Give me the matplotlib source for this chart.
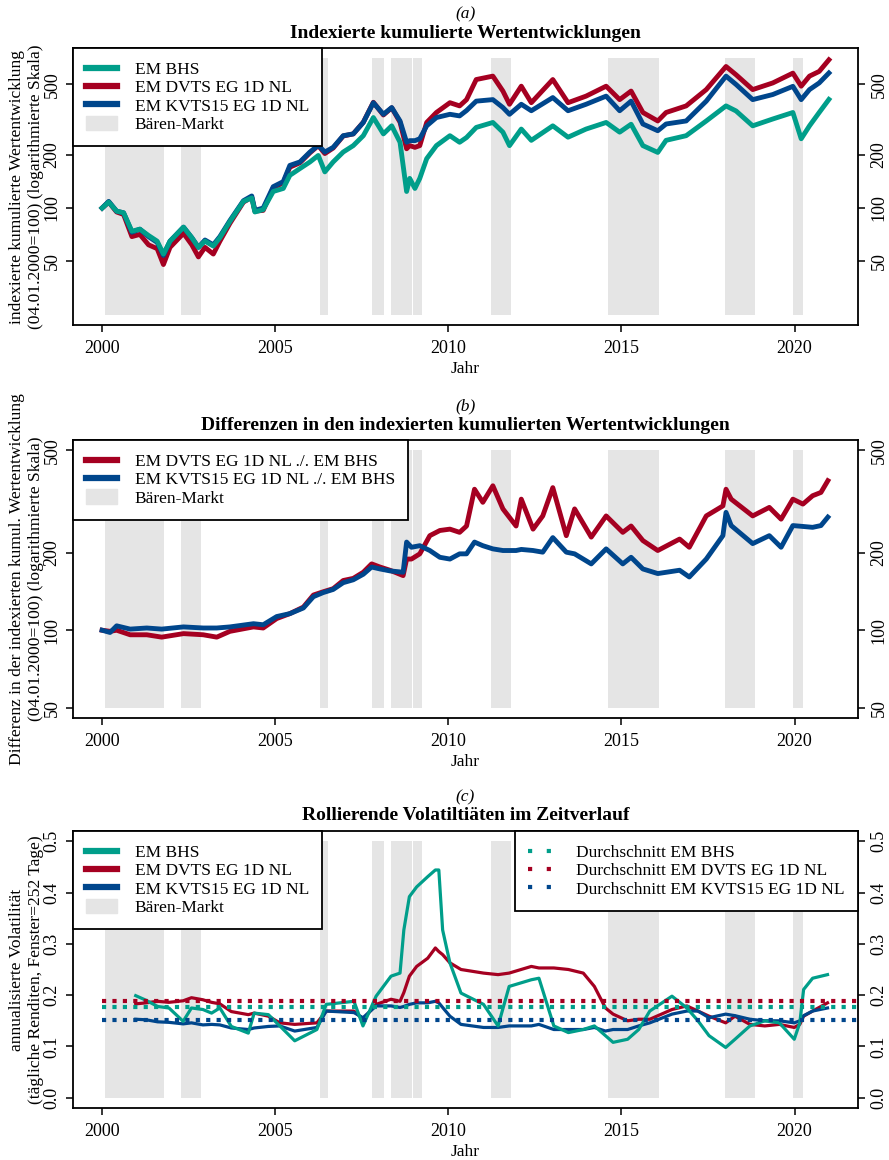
import numpy as np
import matplotlib
matplotlib.use('Agg')
from matplotlib import pyplot as plt
from matplotlib.lines import Line2D
from matplotlib.patches import Patch
from matplotlib.transforms import Bbox

# colours
c_bhs = '#009E8A'
c_dvts = '#A50021'
c_kvts = '#00468C'
c_bear = '#E5E5E5'

# bear market periods (decimal years)
bear_start = [2000.10, 2002.29, 2006.30, 2007.80, 2008.35, 2008.98, 2011.25, 2014.60, 2018.00, 2019.96]
bear_end = [2001.80, 2002.87, 2006.52, 2008.14, 2008.96, 2009.24, 2011.80, 2016.10, 2018.87, 2020.25]

# (a) indexed cumulative performance
t_a = [2000.01, 2000.2, 2000.43, 2000.63, 2000.87, 2001.1, 2001.35, 2001.6, 2001.78, 2001.97,
       2002.36, 2002.6, 2002.79, 2002.98, 2003.22, 2003.41, 2003.7, 2004.09, 2004.33, 2004.42,
       2004.66, 2004.95, 2005.24, 2005.43, 2005.72, 2006.01, 2006.25, 2006.44, 2006.68, 2006.97,
       2007.26, 2007.55, 2007.84, 2008.13, 2008.37, 2008.61, 2008.8, 2008.89, 2009.04, 2009.18,
       2009.38, 2009.66, 2010.05, 2010.33, 2010.53, 2010.81, 2011.29, 2011.58, 2011.77, 2012.11,
       2012.4, 2013.02, 2013.46, 2013.98, 2014.56, 2014.95, 2015.28, 2015.62, 2016.05, 2016.29,
       2016.87, 2017.45, 2018.02, 2018.31, 2018.79, 2019.37, 2019.95, 2020.19, 2020.43, 2020.71,
       2020.99]
a_bhs = [100, 108, 96, 94, 74, 76, 70, 65, 55, 65,
         78, 68, 60, 65, 61, 68, 84, 109, 114, 95,
         98, 124, 129, 153, 167, 182, 198, 160, 182, 207,
         225, 256, 324, 262, 291, 235, 124, 147, 129, 147,
         190, 225, 256, 235, 250, 285, 304, 268, 225, 279,
         241, 291, 251, 279, 304, 268, 297, 225, 206, 241,
         256, 310, 377, 353, 291, 318, 346, 246, 291, 346,
         410]
a_dvts = [100, 108, 95, 92, 69, 71, 62, 59, 48, 60,
          72, 62, 53, 60, 55, 65, 82, 108, 115, 96,
          97, 130, 139, 170, 180, 205, 225, 203, 218, 255,
          262, 305, 395, 335, 368, 305, 216, 225, 220, 225,
          304, 346, 393, 377, 409, 531, 555, 457, 385, 487,
          393, 531, 393, 428, 487, 409, 457, 346, 310, 346,
          377, 466, 629, 565, 466, 508, 577, 487, 555, 590,
          686]
a_kvts = [100, 109, 96, 94, 73, 76, 69, 64, 54, 65,
          78, 68, 60, 66, 62, 69, 85, 110, 117, 97,
          100, 132, 141, 174, 182, 207, 226, 207, 220, 256,
          262, 304, 393, 338, 369, 310, 235, 240, 240, 246,
          291, 324, 338, 331, 355, 401, 409, 369, 338, 385,
          354, 420, 354, 385, 428, 354, 401, 298, 273, 298,
          310, 401, 555, 498, 409, 437, 486, 409, 466, 508,
          578]

# (b) differences in indexed cumulative performance
t_b = [2000.01, 2000.24, 2000.43, 2000.82, 2001.3, 2001.73, 2002.36, 2002.93, 2003.32, 2003.7,
       2004.38, 2004.66, 2005.05, 2005.43, 2005.82, 2006.11, 2006.39, 2006.68, 2006.97, 2007.26,
       2007.55, 2007.79, 2008.03, 2008.32, 2008.7, 2008.8, 2008.94, 2009.18, 2009.47, 2009.76,
       2010.05, 2010.33, 2010.53, 2010.76, 2011.0, 2011.29, 2011.58, 2011.96, 2012.11, 2012.45,
       2012.73, 2013.02, 2013.41, 2013.65, 2014.13, 2014.56, 2015.04, 2015.28, 2015.62, 2016.05,
       2016.68, 2016.96, 2017.45, 2017.93, 2018.02, 2018.17, 2018.79, 2019.27, 2019.61, 2019.95,
       2020.24, 2020.52, 2020.76, 2020.96]
b_dvts = [100, 99, 100, 96, 96, 94, 97, 96, 94, 99,
          103, 102, 111, 116, 123, 137, 141, 145, 156, 159,
          168, 181, 176, 171, 163, 189, 189, 198, 233, 244,
          247, 240, 254, 353, 314, 364, 296, 254, 323, 247,
          278, 358, 233, 296, 230, 278, 240, 254, 223, 204,
          226, 210, 278, 304, 353, 323, 278, 300, 270, 323,
          309, 333, 343, 381]
b_kvts = [100, 98, 104, 101, 102, 101, 103, 102, 102, 103,
          106, 105, 113, 116, 122, 135, 140, 144, 153, 157,
          165, 176, 173, 170, 168, 220, 210, 213, 204, 192,
          189, 198, 198, 220, 213, 207, 204, 204, 206, 204,
          201, 229, 201, 198, 181, 207, 181, 192, 173, 166,
          171, 161, 189, 233, 287, 255, 217, 233, 210, 255,
          253, 251, 255, 275]

# (c) rolling volatility (252 days)
t_c = [2000.98, 2001.28, 2001.61, 2001.94, 2002.35, 2002.59, 2002.92, 2003.17, 2003.41, 2003.74,
       2004.23, 2004.4, 2004.81, 2005.14, 2005.57, 2006.21, 2006.48, 2007.28, 2007.54, 2007.92,
       2008.35, 2008.61, 2008.72, 2008.88, 2009.09, 2009.41, 2009.63, 2009.73, 2009.84, 2010.05,
       2010.37, 2011.02, 2011.44, 2011.76, 2012.4, 2012.62, 2013.05, 2013.47, 2013.9, 2014.22,
       2014.54, 2014.76, 2015.18, 2015.5, 2015.82, 2016.46, 2016.89, 2017.21, 2017.53, 2018.01,
       2018.28, 2018.71, 2019.14, 2019.56, 2019.99, 2020.15, 2020.26, 2020.52, 2020.95]
c_vol_bhs = [0.199, 0.190, 0.178, 0.175, 0.149, 0.175, 0.172, 0.165, 0.175, 0.139,
             0.126, 0.165, 0.162, 0.140, 0.111, 0.133, 0.182, 0.188, 0.140, 0.198,
             0.237, 0.243, 0.327, 0.392, 0.411, 0.431, 0.444, 0.444, 0.327, 0.263,
             0.204, 0.182, 0.140, 0.217, 0.230, 0.233, 0.140, 0.127, 0.133, 0.140,
             0.121, 0.108, 0.114, 0.133, 0.169, 0.198, 0.175, 0.150, 0.121, 0.098,
             0.114, 0.140, 0.150, 0.146, 0.114, 0.146, 0.211, 0.233, 0.240]
c_vol_dvts = [0.183, 0.185, 0.188, 0.186, 0.189, 0.195, 0.191, 0.186, 0.183, 0.168,
              0.162, 0.165, 0.159, 0.146, 0.143, 0.146, 0.169, 0.169, 0.153, 0.182,
              0.192, 0.188, 0.205, 0.237, 0.256, 0.272, 0.292, 0.285, 0.279, 0.263,
              0.250, 0.243, 0.240, 0.243, 0.256, 0.253, 0.253, 0.250, 0.243, 0.217,
              0.175, 0.163, 0.150, 0.153, 0.153, 0.172, 0.179, 0.169, 0.159, 0.146,
              0.159, 0.143, 0.140, 0.143, 0.137, 0.143, 0.159, 0.169, 0.185]
c_vol_kvts = [0.153, 0.152, 0.148, 0.147, 0.144, 0.146, 0.142, 0.143, 0.142, 0.136,
              0.133, 0.136, 0.139, 0.140, 0.130, 0.137, 0.169, 0.166, 0.156, 0.179,
              0.179, 0.176, 0.178, 0.182, 0.185, 0.185, 0.188, 0.185, 0.176, 0.159,
              0.143, 0.137, 0.137, 0.140, 0.140, 0.143, 0.133, 0.133, 0.133, 0.137,
              0.130, 0.133, 0.133, 0.140, 0.146, 0.163, 0.169, 0.169, 0.156, 0.163,
              0.160, 0.153, 0.150, 0.150, 0.146, 0.150, 0.160, 0.169, 0.175]
avg_vol = {'bhs': 0.177, 'dvts': 0.188, 'kvts': 0.151}

lbl_bhs = 'EM BHS'
lbl_dvts = 'EM DVTS EG 1D NL'
lbl_kvts = 'EM KVTS15 EG 1D NL'
lbl_bear = 'Bären-Markt'

plt.rcParams['font.family'] = ['Liberation Serif', 'DejaVu Serif']
plt.rcParams['axes.linewidth'] = 1.3

W, H = 889, 1160
fig = plt.figure(figsize=(W / 100, H / 100), dpi=100)
XLIM = (1999.17, 2021.83)


def make_axes(top, bottom, letter, title, ylab1, ylab2, region):
    ax = fig.add_axes([73 / W, 1 - bottom / H, 785 / W, (bottom - top) / H])
    ax.set_xlim(*XLIM)
    ax.set_xticks([2000, 2005, 2010, 2015, 2020])
    ax.tick_params(direction='out', length=5, width=1.1, labelsize=13, pad=4,
                   right=True, labelright=True)
    ax.tick_params(axis='x', pad=6)
    ax.tick_params(axis='y', labelrotation=90)
    xc = (73 + 858) / 2 / W
    fig.text(xc, 1 - (top - 34) / H, letter, style='italic', fontsize=12.5, ha='center', va='center')
    fig.text(xc, 1 - (top - 15) / H, title, weight='bold', fontsize=14, ha='center', va='center')
    fig.text(xc, 1 - (bottom + 44) / H, 'Jahr', fontsize=12.5, ha='center', va='center')
    yc = 1 - (top + bottom) / 2 / H
    clip = Bbox([[0, H - region[1]], [W, H - region[0]]])
    for xpx, s in [(17, ylab1), (36, ylab2)]:
        t = fig.text(xpx / W, yc, s, rotation=90, fontsize=12.6, ha='center', va='center')
        t.set_clip_box(clip)
        t.set_clip_on(True)
    return ax


def finish_yticks(ax):
    for tk in ax.yaxis.get_major_ticks():
        tk.label1.set_va('center')
        tk.label2.set_va('center')


def shade(ax, lo, hi):
    for s, e in zip(bear_start, bear_end):
        ax.fill_between([s, e], lo, hi, color=c_bear, lw=0, zorder=0)


def log_limits(ax, lo, hi):
    r = np.log10(hi / lo)
    ax.set_yscale('log')
    ax.set_ylim(lo * 10 ** (-0.04 * r), hi * 10 ** (0.04 * r))
    ax.set_yticks([50, 100, 200, 500])
    ax.set_yticklabels(['50', '100', '200', '500'])
    ax.yaxis.set_minor_locator(plt.NullLocator())


leg_kw = dict(loc='upper left', borderaxespad=0, fancybox=False, framealpha=1, edgecolor='black',
              fontsize=12.5, handlelength=1.8, handleheight=0.9, handletextpad=1.0,
              labelspacing=0.06, borderpad=0.75)

# ---- (a)
ax = make_axes(48, 325, '(a)', 'Indexierte kumulierte Wertentwicklungen',
               'indexierte kumulierte Wertentwicklung', '(04.01.2000=100) (logarithmierte Skala)',
               (0, 386.7))
log_limits(ax, 25, 700)
shade(ax, 25, 700)
ax.plot(t_a, a_dvts, color=c_dvts, lw=3.5)
ax.plot(t_a, a_kvts, color=c_kvts, lw=3.5)
ax.plot(t_a, a_bhs, color=c_bhs, lw=3.5)
h = [Line2D([], [], color=c_bhs, lw=4.5), Line2D([], [], color=c_dvts, lw=4.5),
     Line2D([], [], color=c_kvts, lw=4.5), Patch(color=c_bear)]
leg = ax.legend(h, [lbl_bhs, lbl_dvts, lbl_kvts, lbl_bear], **leg_kw)
leg.get_frame().set_linewidth(1.3)
finish_yticks(ax)

# ---- (b)
ax = make_axes(440, 718, '(b)', 'Differenzen in den indexierten kumulierten Wertentwicklungen',
               'Differenz in der indexierten kumul. Wertentwicklung', '(04.01.2000=100) (logarithmierte Skala)',
               (386.7, 773.3))
log_limits(ax, 50, 500)
shade(ax, 50, 500)
ax.plot(t_b, b_dvts, color=c_dvts, lw=3.5)
ax.plot(t_b, b_kvts, color=c_kvts, lw=3.5)
h = [Line2D([], [], color=c_dvts, lw=4.5), Line2D([], [], color=c_kvts, lw=4.5), Patch(color=c_bear)]
leg = ax.legend(h, [lbl_dvts + ' ./. ' + lbl_bhs, lbl_kvts + ' ./. ' + lbl_bhs, lbl_bear], **leg_kw)
leg.get_frame().set_linewidth(1.3)
finish_yticks(ax)

# ---- (c)
ax = make_axes(831, 1108, '(c)', 'Rollierende Volatiltiäten im Zeitverlauf',
               'annualisierte Volatilität', '(tägliche Renditen, Fenster=252 Tage)',
               (773.3, 1160))
ax.set_ylim(-0.02, 0.52)
ax.set_yticks([0.0, 0.1, 0.2, 0.3, 0.4, 0.5])
ax.set_yticklabels(['0.0', '0.1', '0.2', '0.3', '0.4', '0.5'])
shade(ax, 0, 0.5)
ax.plot(t_c, c_vol_dvts, color=c_dvts, lw=2.3)
ax.plot(t_c, c_vol_kvts, color=c_kvts, lw=2.3)
ax.plot(t_c, c_vol_bhs, color=c_bhs, lw=2.3)
dots = (0, (1, 1.5))
for key, col in [('dvts', c_dvts), ('bhs', c_bhs), ('kvts', c_kvts)]:
    ax.hlines(avg_vol[key], t_a[0], XLIM[1], colors=col, linestyles=dots, lw=3, zorder=3)
h = [Line2D([], [], color=c_bhs, lw=4.5), Line2D([], [], color=c_dvts, lw=4.5),
     Line2D([], [], color=c_kvts, lw=4.5), Patch(color=c_bear)]
leg1 = ax.legend(h, [lbl_bhs, lbl_dvts, lbl_kvts, lbl_bear], **leg_kw)
leg1.get_frame().set_linewidth(1.3)
ax.add_artist(leg1)
h2 = [Line2D([], [], color=c, lw=3, linestyle=(0, (1, 3.5))) for c in (c_bhs, c_dvts, c_kvts)]
kw2 = dict(leg_kw)
kw2['loc'] = 'upper right'
leg2 = ax.legend(h2, ['Durchschnitt ' + lbl_bhs, 'Durchschnitt ' + lbl_dvts, 'Durchschnitt ' + lbl_kvts], **kw2)
leg2.get_frame().set_linewidth(1.3)
finish_yticks(ax)

plt.savefig('out.png', dpi=100)
plt.close()
